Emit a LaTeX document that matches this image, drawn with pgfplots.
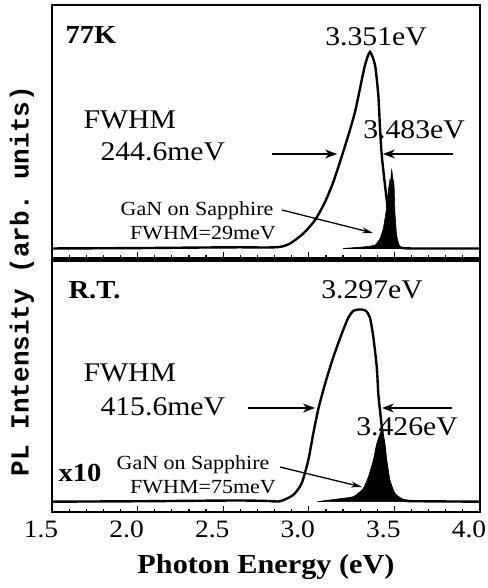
\documentclass[border=0pt]{standalone}
\usepackage{pgfplots}
\pgfplotsset{compat=1.18}
\usepackage{fontspec}
\setmainfont{Liberation Serif}[FakeStretch=1.1]
\setmonofont{Liberation Mono}
\usetikzlibrary{arrows.meta}

% spectra, normalised to the broad peak
\pgfplotstableread{
E I
1.50 0.000
2.00 0.002
2.40 0.005
2.60 0.006
2.75 0.005
2.832 0.008
2.890 0.025
2.968 0.076
3.036 0.144
3.095 0.237
3.143 0.338
3.182 0.440
3.231 0.576
3.270 0.695
3.299 0.814
3.328 0.932
3.357 1.000
3.387 0.932
3.406 0.780
3.416 0.612
3.426 0.475
3.445 0.322
3.464 0.186
3.484 0.068
3.513 0.017
3.533 0.005
3.60 0.000
4.00 0.000
}\lowtemp
\pgfplotstableread{
E I
3.20 0.000
3.319 0.008
3.387 0.017
3.416 0.051
3.435 0.102
3.451 0.186
3.464 0.288
3.474 0.350
3.478 0.340
3.484 0.400
3.490 0.360
3.498 0.322
3.503 0.186
3.513 0.068
3.528 0.017
3.55 0.000
}\lowgan
\pgfplotstableread{
E I
1.50 0.000
2.00 0.002
2.40 0.005
2.60 0.006
2.75 0.004
2.832 0.002
2.909 0.035
2.958 0.095
2.997 0.216
3.026 0.355
3.056 0.485
3.095 0.615
3.143 0.754
3.192 0.875
3.231 0.961
3.262 0.997
3.300 1.003
3.332 0.997
3.357 0.961
3.377 0.858
3.397 0.702
3.406 0.563
3.416 0.476
3.435 0.320
3.455 0.182
3.474 0.078
3.513 0.018
3.572 0.004
3.65 0.002
4.00 0.000
}\rttemp
\pgfplotstableread{
E I
3.05 0.000
3.124 0.009
3.260 0.026
3.319 0.070
3.348 0.130
3.377 0.217
3.397 0.303
3.426 0.373
3.445 0.303
3.455 0.217
3.474 0.113
3.503 0.044
3.552 0.012
3.65 0.000
}\rtgan

\pgfplotsset{
  panel/.style={
    scale only axis, width=428pt,
    xmin=1.5, xmax=4.0,
    xtick={1.5,2.0,2.5,3.0,3.5,4.0},
    minor x tick num=4,
    xtick pos=left, ytick=\empty,
    tick align=inside,
    major tick length=6pt, minor tick length=3pt,
    every tick/.style={black, line width=1.2pt},
    axis line style={line width=2.2pt},
    /pgf/number format/assume math mode=true,
    /pgf/number format/fixed, /pgf/number format/fixed zerofill,
    /pgf/number format/precision=1,
    tick label style={font=\fontsize{25}{25}\selectfont},
    xticklabel style={xshift=-11pt, yshift=-5pt},
    clip=false,
  },
  curve/.style={black, line width=2.4pt, smooth, tension=0.4},
  gan/.style={black, fill=black, line width=0.6pt, smooth, tension=0.3},
}

\begin{document}
\begin{tikzpicture}
\path[use as bounding box] (0,0) rectangle (487pt,588pt);

\begin{axis}[panel, at={(52pt,329.5pt)}, anchor=south west, height=253.5pt,
  ymin=-0.051, ymax=1.239, xticklabels={}]
\addplot[gan] table[x=E,y=I] {\lowgan} \closedcycle;
\addplot[curve] table[x=E,y=I] {\lowtemp};
\end{axis}

\begin{axis}[panel, at={(52pt,76pt)}, anchor=south west, height=251pt,
  ymin=-0.054, ymax=1.256,
  xlabel={\bfseries Photon Energy (eV)},
  xlabel style={font=\fontsize{27.5}{27.5}\selectfont, yshift=-10pt}]
\addplot[gan] table[x=E,y=I] {\rtgan} \closedcycle;
\addplot[curve] table[x=E,y=I] {\rttemp};
\end{axis}

\begin{scope}[x=1pt, y=-1pt, shift={(0pt,588pt)}]
\node[rotate=90, font=\fontsize{26}{26}\selectfont\ttfamily\bfseries] at (22,281) {PL Intensity (arb. units)};

\begin{scope}[font=\fontsize{27}{27}\selectfont]
\node[anchor=west, font=\fontsize{26}{26}\selectfont\bfseries] at (62,35) {77K};
\node at (376,37) {3.351eV};
\node[anchor=west] at (80,120) {FWHM};
\node[anchor=west] at (97,152) {244.6meV};
\node at (414,130) {3.483eV};
\node[anchor=west, font=\fontsize{26}{26}\selectfont\bfseries] at (65,290) {R.T.};
\node at (372,290) {3.297eV};
\node[anchor=west] at (80,373) {FWHM};
\node[anchor=west] at (97,407) {415.6meV};
\node at (407,427) {3.426eV};
\node[anchor=west, font=\fontsize{26}{26}\selectfont\bfseries] at (55,473) {x10};
\end{scope}

\begin{scope}[font=\fontsize{20}{20}\selectfont]
\node at (197,211) {GaN on Sapphire};
\node at (203,233) {FWHM=29meV};
\node at (193,465) {GaN on Sapphire};
\node at (203,487) {FWHM=75meV};
\end{scope}

\begin{scope}[line width=2.2pt, -{Stealth[length=12pt,width=9pt]}]
\draw (272,154) -- (337,154);
\draw (453,154) -- (383,154);
\draw (248,408) -- (315,408);
\draw (452,408) -- (382,408);
\end{scope}
\begin{scope}[line width=1.3pt, -{Stealth[length=11pt,width=6pt]}]
\draw (282,210) -- (373,233);
\draw (280,467) -- (362,487);
\end{scope}
\end{scope}
\end{tikzpicture}
\end{document}
